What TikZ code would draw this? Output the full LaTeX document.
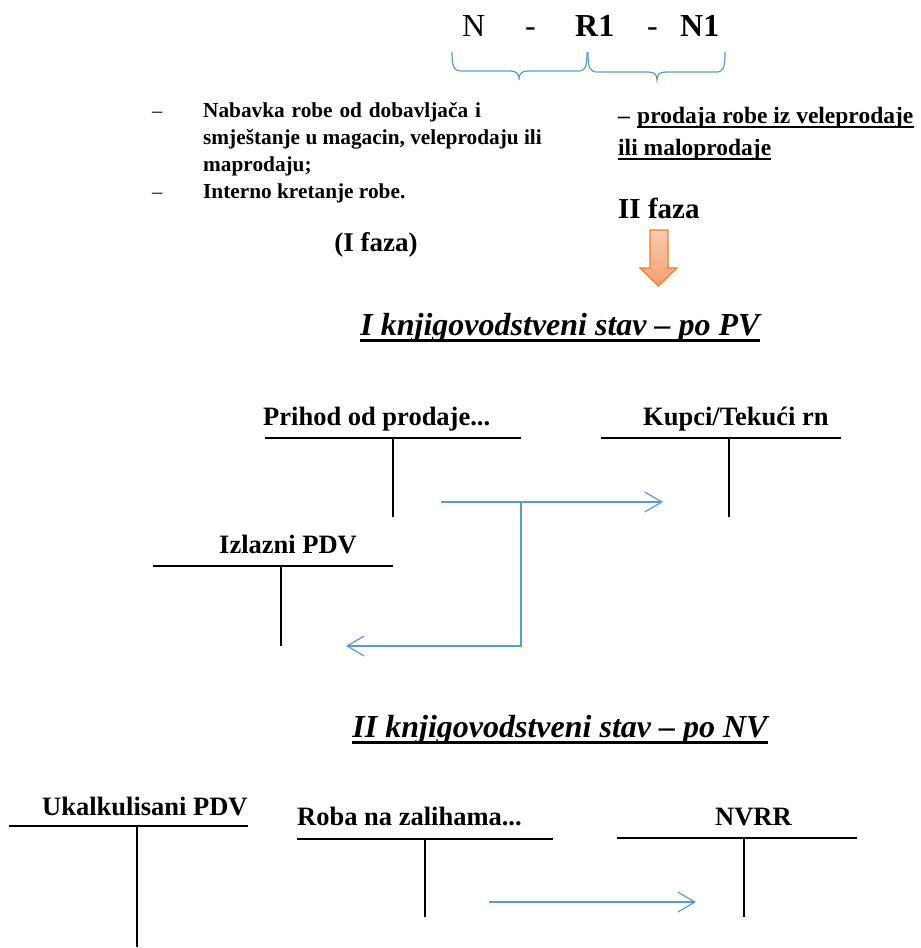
\documentclass[tikz,border=0pt]{standalone}
\usepackage{fontspec}
\setmainfont{Liberation Serif}
\usetikzlibrary{arrows.meta}
\definecolor{lineblue}{HTML}{5B9BD5}
\definecolor{arroworange}{HTML}{ED7D31}
\definecolor{orangetop}{HTML}{F8CBAD}
\definecolor{orangebot}{HTML}{F4A06E}
\begin{document}
\begin{tikzpicture}[x=1pt,y=-1pt,
  txt/.style={inner sep=0pt, anchor=base west},
  acct/.style={txt, font=\fontsize{26.5}{30}\selectfont\bfseries},
  listtxt/.style={txt, font=\fontsize{21.3}{24}\selectfont\bfseries},
  righttxt/.style={txt, font=\fontsize{23.5}{27}\selectfont\bfseries},
  big/.style={txt, font=\fontsize{32}{36}\selectfont},
  title/.style={inner sep=0pt, anchor=base, font=\fontsize{32}{36}\selectfont\bfseries\itshape},
  hbar/.style={line width=1.8pt},
  vbar/.style={line width=1.5pt},
  flow/.style={draw=lineblue, line width=1.2pt, -{Straight Barb[length=17pt,width=20pt,line width=1.2pt]}},
  brace/.style={draw=lineblue, line width=1.2pt},
  uline/.style={line width=2pt}]
\useasboundingbox (0,0) rectangle (921,948);

% top formula
\node[big] (n0) at (462,36) {N};
\node[big] (h1) at (525,36) {-};
\node[big, font=\fontsize{32}{36}\selectfont\bfseries] (r1) at (575,36) {R1};
\node[big] (h2) at (647,36) {-};
\node[big, font=\fontsize{32}{36}\selectfont\bfseries] (n1) at (680,36) {N1};

% braces
\draw[brace] (452,52) .. controls (452,68) and (454,71) .. (462,71) -- (510,71)
  .. controls (516,71) and (519,73) .. (519,80)
  .. controls (519,73) and (522,71) .. (528,71) -- (578,71)
  .. controls (585,71) and (587,68) .. (587,52);
\draw[brace] (588,52) .. controls (588,69) and (590,72) .. (598,72) -- (648,72)
  .. controls (654,72) and (657,74) .. (657,80)
  .. controls (657,74) and (660,72) .. (666,72) -- (716,72)
  .. controls (723,72) and (725,69) .. (725,52);

% left list
\node[txt, font=\fontsize{20.5}{24}\selectfont] (d1) at (152,117) {–};
\node[listtxt] (l1) at (203,117) {\spaceskip=0.32em Nabavka robe od dobavljača i};
\node[listtxt] (l2) at (203,144) {smještanje u magacin, veleprodaju ili};
\node[listtxt] (l3) at (203,171) {maprodaju;};
\node[txt, font=\fontsize{20.5}{24}\selectfont] (d2) at (152,198) {–};
\node[listtxt] (l4) at (203,198) {Interno kretanje robe.};
\node[inner sep=0pt, anchor=base, font=\fontsize{27}{30}\selectfont\bfseries] (f1) at (376,251) {(I faza)};

% right text
\node[righttxt] (rd) at (618,123) {–};
\node[righttxt] (r1t) at (637,123) {prodaja robe iz veleprodaje};
\node[righttxt] (r2t) at (618,155) {ili maloprodaje};
\draw[uline] ([yshift=-4pt]r1t.base west) -- ([yshift=-4pt]r1t.base east);
\draw[uline] ([yshift=-4pt]r2t.base west) -- ([yshift=-4pt]r2t.base east);
\node[txt, font=\fontsize{29}{32}\selectfont\bfseries] (f2) at (618,218) {II faza};

% orange arrow
\draw[draw=arroworange, line width=1.2pt, top color=orangetop, bottom color=orangebot]
  (650,230) -- (668,230) -- (668,268) -- (677,268) -- (658.5,286) -- (640,268) -- (650,268) -- cycle;

% title 1
\node[title] (t1) at (560,335) {I knjigovodstveni stav – po PV};
\draw[line width=2.6pt] ([yshift=-5.5pt]t1.base west) -- ([yshift=-5.5pt]t1.base east);

% accounts section 1
\node[acct] (pr) at (263,425) {Prihod od prodaje...};
\coordinate (prL) at (265,438); \coordinate (prR) at (521,438);
\coordinate (prT) at (393,438); \coordinate (prB) at (393,517);
\draw[hbar] (prL) -- (prR); \draw[vbar] (prT) -- (prB);

\node[acct] (ku) at (643,425) {Kupci/Tekući rn};
\coordinate (kuL) at (601,438); \coordinate (kuR) at (841,438);
\coordinate (kuT) at (729,438); \coordinate (kuB) at (729,517);
\draw[hbar] (kuL) -- (kuR); \draw[vbar] (kuT) -- (kuB);

\node[acct] (iz) at (219,553) {Izlazni PDV};
\coordinate (izL) at (153,566); \coordinate (izR) at (393,566);
\coordinate (izT) at (281,566); \coordinate (izB) at (281,646);
\draw[hbar] (izL) -- (izR); \draw[vbar] (izT) -- (izB);

\coordinate (fs) at (441,502); \coordinate (fe) at (663,502);
\coordinate (fj) at (521,502); \coordinate (fl) at (346,646);
\draw[flow] (fs) -- (fe);
\draw[flow] (fj) |- (fl);

% title 2
\node[title] (t2) at (560,737) {II knjigovodstveni stav – po NV};
\draw[line width=2.6pt] ([yshift=-5.5pt]t2.base west) -- ([yshift=-5.5pt]t2.base east);

% accounts section 2
\node[acct] (uk) at (42,815) {Ukalkulisani PDV};
\coordinate (ukL) at (9,826); \coordinate (ukR) at (248,826);
\coordinate (ukT) at (137,826); \coordinate (ukB) at (137,947);
\draw[hbar] (ukL) -- (ukR); \draw[vbar] (ukT) -- (ukB);

\node[acct] (ro) at (297,825) {Roba na zalihama...};
\coordinate (roL) at (297,839); \coordinate (roR) at (553,839);
\coordinate (roT) at (425,839); \coordinate (roB) at (425,917);
\draw[hbar] (roL) -- (roR); \draw[vbar] (roT) -- (roB);

\node[acct] (nv) at (715,825) {NVRR};
\coordinate (nvL) at (617,838); \coordinate (nvR) at (857,838);
\coordinate (nvT) at (744,838); \coordinate (nvB) at (744,917);
\draw[hbar] (nvL) -- (nvR); \draw[vbar] (nvT) -- (nvB);

\coordinate (gs) at (489,902); \coordinate (ge) at (696,902);
\draw[flow] (gs) -- (ge);
\end{tikzpicture}
\end{document}
